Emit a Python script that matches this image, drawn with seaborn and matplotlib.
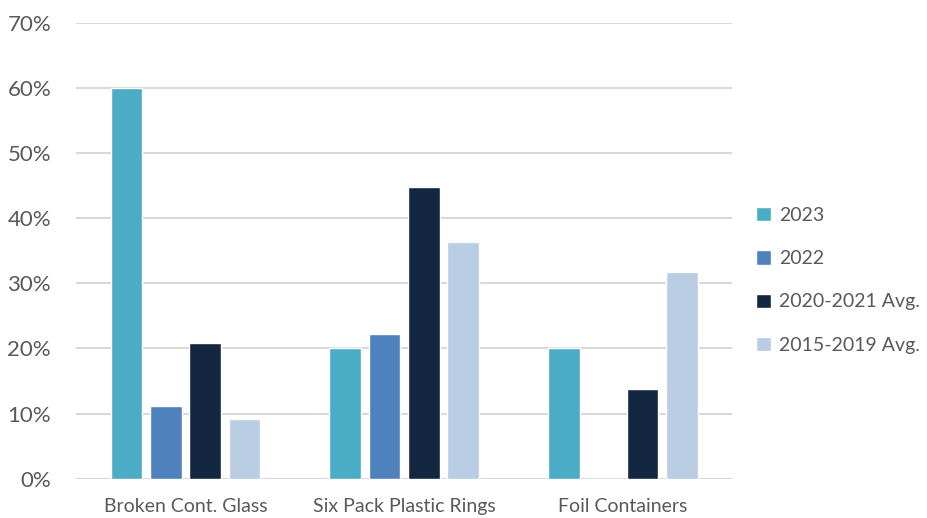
import pandas as pd
import numpy as np
import matplotlib
matplotlib.use('Agg')
import matplotlib.pyplot as plt
import seaborn as sns
from matplotlib.ticker import PercentFormatter

# data
categories = ['Broken Cont. Glass', 'Six Pack Plastic Rings', 'Foil Containers']
series = ['2023', '2022', '2020-2021 Avg.', '2015-2019 Avg.']
v_2023 = [0.600, 0.200, 0.200]
v_2022 = [0.111, 0.222, 0.0]
v_2020_21 = [0.208, 0.448, 0.137]
v_2015_19 = [0.091, 0.364, 0.318]
colors = ['#4BACC6', '#4F81BD', '#132741', '#B9CDE5']

rows = []
for s, vals in zip(series, [v_2023, v_2022, v_2020_21, v_2015_19]):
    for c, v in zip(categories, vals):
        rows.append({'category': c, 'series': s, 'value': v})
df = pd.DataFrame(rows)

sns.set_style('white')
plt.rcParams['font.family'] = ['Lato', 'DejaVu Sans']

fig = plt.figure(figsize=(9.28, 5.18), dpi=100)
ax = fig.add_axes([0.082, 0.076, 0.707, 0.88])

sns.barplot(data=df, x='category', y='value', hue='series', palette=colors,
            width=0.72, gap=0.2, saturation=1, ax=ax, errorbar=None)

ax.set_ylim(0, 0.70)
ax.set_xlim(-0.5, 2.5)
ax.set_yticks(np.arange(0, 0.71, 0.1))
ax.yaxis.set_major_formatter(PercentFormatter(1.0, decimals=0))
ax.grid(axis='y', color='#D9D9D9', linewidth=1.5)
ax.set_axisbelow(True)
for sp in ax.spines.values():
    sp.set_visible(False)
ax.set_xlabel('')
ax.set_ylabel('')
ax.tick_params(axis='y', labelsize=16, colors='#595959', length=0, pad=18)
ax.tick_params(axis='x', labelsize=14, colors='#595959', length=0, pad=14)

ax.legend(loc='center left', bbox_to_anchor=(1.025, 0.435), frameon=False,
          borderaxespad=0, fontsize=14, handlelength=0.75, handleheight=0.75,
          handletextpad=0.4, labelspacing=1.35, labelcolor='#595959')

fig.savefig('out.png', dpi=100)
